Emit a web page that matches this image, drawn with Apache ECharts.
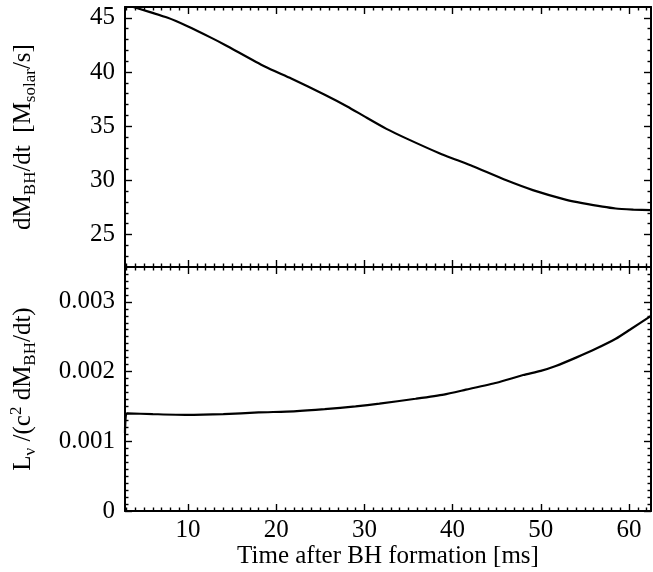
<!DOCTYPE html>
<html>
<head>
<meta charset="utf-8">
<script src="https://cdn.jsdelivr.net/npm/echarts@6/dist/echarts.min.js"></script>
<style>html,body{margin:0;padding:0;background:#fff;}#c{width:653px;height:572px;}</style>
</head>
<body>
<div id="c"></div>
<script>
// ---- data ----
var topTime = [2.85, 3.6, 7.7, 10.0, 12.65, 14.2, 18.7, 21.7, 25.5, 28.1, 30.0, 32.5, 34.8, 38.5, 40.4, 42.3, 46.1, 49.1, 52.9, 54.7, 58.5, 60.5, 62.5];
var topRate = [46.2, 46.05, 45.0, 44.2, 43.15, 42.5, 40.5, 39.4, 37.9, 36.8, 35.9, 34.75, 33.85, 32.5, 31.9, 31.3, 30.0, 29.1, 28.2, 27.9, 27.4, 27.3, 27.25];
var botTime = [2.85, 3.1, 6, 9.7, 14, 18, 22, 25.5, 29, 31.7, 35.8, 39, 41.5, 45, 48, 50, 51.7, 54, 56.3, 58.5, 60.1, 62.5];
var botEff = [0.00112, 0.00140, 0.00139, 0.00138, 0.00139, 0.001414, 0.00143, 0.00146, 0.0015, 0.00154, 0.00161, 0.00167, 0.00174, 0.00184, 0.00195, 0.00201, 0.00208, 0.0022, 0.00233, 0.00247, 0.0026, 0.0028];
var xMajor = [10, 20, 30, 40, 50, 60];
var yTopMajor = [25, 30, 35, 40, 45];
var yBotMajor = [0, 0.001, 0.002, 0.003];
var xRange = [2.85, 62.5];
var yTopRange = [22, 46];
var yBotRange = [0, 0.0035];

function minorVals(lo, hi, step, majors) {
  var out = [];
  var start = Math.ceil(lo / step - 1e-9);
  for (var i = start; i * step <= hi + 1e-12; i++) {
    var v = +(i * step).toFixed(6);
    var isMajor = majors.some(function (m) { return Math.abs(m - v) < step / 10; });
    if (!isMajor && v > lo + 1e-12 && v < hi - 1e-12) out.push(v);
  }
  return out;
}
var xMinor = minorVals(xRange[0], xRange[1], 1, xMajor);
var yTopMinor = minorVals(yTopRange[0], yTopRange[1], 1, yTopMajor);
var yBotMinor = minorVals(yBotRange[0], yBotRange[1], 0.0001, yBotMajor);

var FONT = 'Liberation Serif';
var FS = 25;
var lineCol = '#000';

function axis(kind, grid, pos, range, ticks, len, showLine, labels, extra) {
  var a = {
    type: 'value', gridIndex: grid, position: pos, min: range[0], max: range[1],
    splitLine: { show: false },
    axisLine: { show: showLine, onZero: false, lineStyle: { color: lineCol, width: 2 } },
    axisTick: { show: true, inside: true, length: len, customValues: ticks, lineStyle: { color: lineCol, width: 1.4 } },
    axisLabel: labels ? {
      show: true, customValues: labels, color: '#000', fontFamily: FONT, fontSize: FS,
      margin: kind === 'x' ? 7 : 10
    } : { show: false }
  };
  if (extra) for (var k in extra) a[k] = extra[k];
  return a;
}

var xAxes = [
  axis('x', 0, 'bottom', xRange, xMajor, 7, true, null),
  axis('x', 0, 'bottom', xRange, xMinor, 3.5, false, null),
  axis('x', 0, 'top', xRange, xMajor, 7, true, null),
  axis('x', 0, 'top', xRange, xMinor, 3.5, false, null),
  axis('x', 1, 'bottom', xRange, xMajor, 7, true, xMajor, {
    name: 'Time after BH formation [ms]', nameLocation: 'middle', nameGap: 30,
    nameTextStyle: { color: '#000', fontFamily: FONT, fontSize: FS }
  }),
  axis('x', 1, 'bottom', xRange, xMinor, 3.5, false, null),
  axis('x', 1, 'top', xRange, xMajor, 7, true, null),
  axis('x', 1, 'top', xRange, xMinor, 3.5, false, null)
];

var richStyle = {
  m: { fontFamily: FONT, fontSize: FS, lineHeight: 31, color: '#000' },
  s: { fontFamily: FONT, fontSize: 17, lineHeight: 17, verticalAlign: 'bottom', color: '#000' },
  p: { fontFamily: FONT, fontSize: 17, lineHeight: 17, verticalAlign: 'top', color: '#000' }
};

var yAxes = [
  axis('y', 0, 'left', yTopRange, yTopMajor, 7, true, yTopMajor, {
    name: '{m|dM}{s|BH}{m|/dt  [M}{s|solar}{m|/s]}', nameLocation: 'middle', nameGap: 86, nameRotate: 90,
    nameTextStyle: { rich: richStyle }
  }),
  axis('y', 0, 'left', yTopRange, yTopMinor, 3.5, false, null),
  axis('y', 0, 'right', yTopRange, yTopMajor, 7, true, null),
  axis('y', 0, 'right', yTopRange, yTopMinor, 3.5, false, null),
  axis('y', 1, 'left', yBotRange, yBotMajor, 7, true, yBotMajor, {
    name: '{m|L}{s|ν}{m| /(c}{p|2}{m| dM}{s|BH}{m|/dt)}', nameLocation: 'middle', nameGap: 86, nameRotate: 90,
    nameTextStyle: { rich: richStyle }
  }),
  axis('y', 1, 'left', yBotRange, yBotMinor, 3.5, false, null),
  axis('y', 1, 'right', yBotRange, yBotMajor, 7, true, null),
  axis('y', 1, 'right', yBotRange, yBotMinor, 3.5, false, null)
];

function pairs(xs, ys) { return xs.map(function (x, i) { return [x, ys[i]]; }); }

var chart = echarts.init(document.getElementById('c'), null, { renderer: 'canvas' });
chart.setOption({
  backgroundColor: '#fff',
  animation: false,
  grid: [
    { left: 125, right: 2, top: 7, height: 260 },
    { left: 125, right: 2, top: 267, height: 244 }
  ],
  xAxis: xAxes,
  yAxis: yAxes,
  series: [
    { type: 'line', xAxisIndex: 0, yAxisIndex: 0, data: pairs(topTime, topRate), showSymbol: false, smooth: 0.2,
      lineStyle: { color: '#000', width: 2.2 } },
    { type: 'line', xAxisIndex: 4, yAxisIndex: 4, data: pairs(botTime, botEff), showSymbol: false, smooth: 0.2,
      lineStyle: { color: '#000', width: 2.2 } }
  ]
});
</script>
</body>
</html>
